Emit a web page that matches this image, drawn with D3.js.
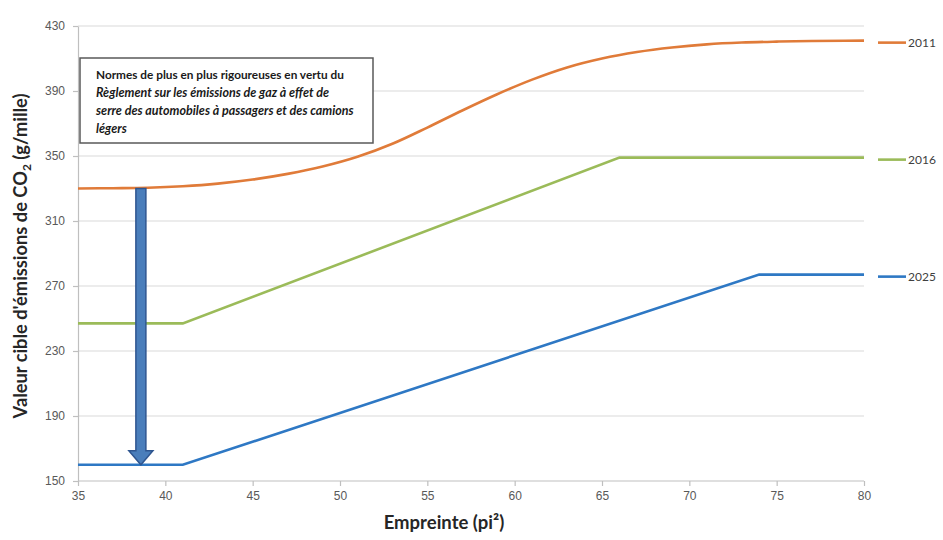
<!DOCTYPE html>
<html>
<head>
    <meta charset="utf-8">
    <title>Valeur cible d'émissions de CO2</title>
    <script src="https://d3js.org/d3.v7.min.js"></script>
    <style>
        body {
            margin: 0;
            background: #fff;
            font-family: Lato, "Open Sans", sans-serif;
        }
        .grid line {
            stroke: #d9d9d9;
            stroke-width: 1.2;
        }
        .axis path, .axis line {
            stroke: #bfbfbf;
            stroke-width: 1.2;
        }
        .axis text {
            fill: #595959;
            font-size: 12px;
        }
        .series {
            fill: none;
            stroke-width: 2.6;
        }
    </style>
</head>
<body>
    <div id="chart"></div>
    <script>
        const width = 943,
            height = 540;
        const margin = { top: 26, right: 79, bottom: 59, left: 78 };

        // footprint (sq ft)
        const footprint2011 = [35, 37, 39, 41, 43, 45, 47, 49, 51, 53, 55, 57, 59, 61, 63, 65, 67, 69, 71, 73, 75, 77, 80];
        const values2011 = [330, 330.2, 330.5, 331.4, 333, 335.5, 339, 343.5, 349.5, 357.5, 367.5, 378, 388, 397, 404.5, 410, 414, 416.8, 418.7, 419.8, 420.4, 420.8, 421];
        const footprint2016 = [35, 41, 66, 80];
        const values2016 = [247, 247, 349, 349];
        const footprint2025 = [35, 41, 74, 80];
        const values2025 = [160, 160, 277, 277];

        const seriesNames = ["2011", "2016", "2025"];
        const seriesColors = ["#e07b39", "#9bbb59", "#2e78c4"];

        const xTicks = [35, 40, 45, 50, 55, 60, 65, 70, 75, 80];
        const yTicks = [150, 190, 230, 270, 310, 350, 390, 430];

        const noteLines = [
            { text: "Normes de plus en plus rigoureuses en vertu du", italic: false },
            { text: "Règlement sur les émissions de gaz à effet de", italic: true },
            { text: "serre des automobiles à passagers et des camions", italic: true },
            { text: "légers", italic: true }
        ];

        const series = [
            { name: seriesNames[0], color: seriesColors[0], pts: footprint2011.map((x, i) => ({ x, y: values2011[i] })) },
            { name: seriesNames[1], color: seriesColors[1], pts: footprint2016.map((x, i) => ({ x, y: values2016[i] })) },
            { name: seriesNames[2], color: seriesColors[2], pts: footprint2025.map((x, i) => ({ x, y: values2025[i] })) }
        ];

        const xScale = d3.scaleLinear().domain([35, 80]).range([margin.left, width - margin.right]);
        const yScale = d3.scaleLinear().domain([150, 430]).range([height - margin.bottom, margin.top]);

        const svg = d3.select("#chart").append("svg")
            .attr("width", width)
            .attr("height", height);

        // horizontal gridlines
        svg.append("g")
            .attr("class", "grid")
            .selectAll("line")
            .data(yTicks.slice(1))
            .enter().append("line")
            .attr("x1", margin.left)
            .attr("x2", width - margin.right)
            .attr("y1", d => yScale(d))
            .attr("y2", d => yScale(d));

        // axes
        const xAxis = svg.append("g")
            .attr("class", "axis")
            .attr("transform", "translate(0," + (height - margin.bottom) + ")")
            .call(d3.axisBottom(xScale).tickValues(xTicks).tickSize(5).tickPadding(5).tickSizeOuter(0));
        xAxis.select(".domain").attr("d", "M" + margin.left + ",0H" + (width - margin.right));

        const yAxis = svg.append("g")
            .attr("class", "axis")
            .attr("transform", "translate(" + margin.left + ",0)")
            .call(d3.axisLeft(yScale).tickValues(yTicks).tickSize(5).tickPadding(8).tickSizeOuter(0));

        // lines
        const line = d3.line()
            .x(d => xScale(d.x))
            .y(d => yScale(d.y));

        svg.selectAll(".series")
            .data(series)
            .enter().append("path")
            .attr("class", "series")
            .attr("stroke", d => d.color)
            .attr("d", d => line.curve(d.name === "2011" ? d3.curveMonotoneX : d3.curveLinear)(d.pts));

        // labels at right end
        const labels = svg.append("g");
        series.forEach(s => {
            const last = s.pts[s.pts.length - 1];
            const yy = yScale(last.y);
            labels.append("line")
                .attr("x1", width - margin.right + 14)
                .attr("x2", width - margin.right + 42)
                .attr("y1", yy + 2)
                .attr("y2", yy + 2)
                .attr("stroke", s.color)
                .attr("stroke-width", 2.6);
            labels.append("text")
                .attr("x", width - margin.right + 44)
                .attr("y", yy + 6)
                .attr("fill", "#404040")
                .style("font-size", "12px")
                .text(s.name);
        });

        // arrow from 2011 down to 2025 level
        const ax = xScale(38.6);
        const aTop = yScale(values2011[0]);
        const aBot = yScale(values2025[0]);
        const shaft = 5, head = 12, headLen = 14;
        svg.append("path")
            .attr("d", "M" + (ax - shaft) + "," + aTop +
                "H" + (ax + shaft) +
                "V" + (aBot - headLen) +
                "H" + (ax + head) +
                "L" + ax + "," + aBot +
                "L" + (ax - head) + "," + (aBot - headLen) +
                "H" + (ax - shaft) + "Z")
            .attr("fill", "#4a7ebb")
            .attr("stroke", "#2f5690")
            .attr("stroke-width", 1.5);

        // note box
        const note = svg.append("g");
        note.append("rect")
            .attr("x", 80)
            .attr("y", 58)
            .attr("width", 293)
            .attr("height", 85)
            .attr("fill", "#fff")
            .attr("stroke", "#595959")
            .attr("stroke-width", 1.5);
        note.selectAll("text")
            .data(noteLines)
            .enter().append("text")
            .attr("x", 96)
            .attr("y", (d, i) => 79 + i * 18)
            .attr("fill", "#1a1a1a")
            .style("font-size", d => d.italic ? "12.5px" : "11.8px")
            .style("font-weight", "bold")
            .style("font-style", d => d.italic ? "italic" : "normal")
            .text(d => d.text);

        // axis titles
        const yTitle = svg.append("text")
            .attr("transform", "translate(27,256) rotate(-90)")
            .attr("text-anchor", "middle")
            .attr("fill", "#262626")
            .style("font-size", "18.3px")
            .style("font-weight", "bold");
        yTitle.append("tspan").text("Valeur cible d'émissions de CO");
        yTitle.append("tspan").attr("dy", 4).style("font-size", "12px").text("2");
        yTitle.append("tspan").attr("dy", -4).text(" (g/mille)");

        svg.append("text")
            .attr("x", 444)
            .attr("y", 529)
            .attr("text-anchor", "middle")
            .attr("fill", "#262626")
            .style("font-size", "18.5px")
            .style("font-weight", "bold")
            .text("Empreinte (pi²)");
    </script>
</body>
</html>
